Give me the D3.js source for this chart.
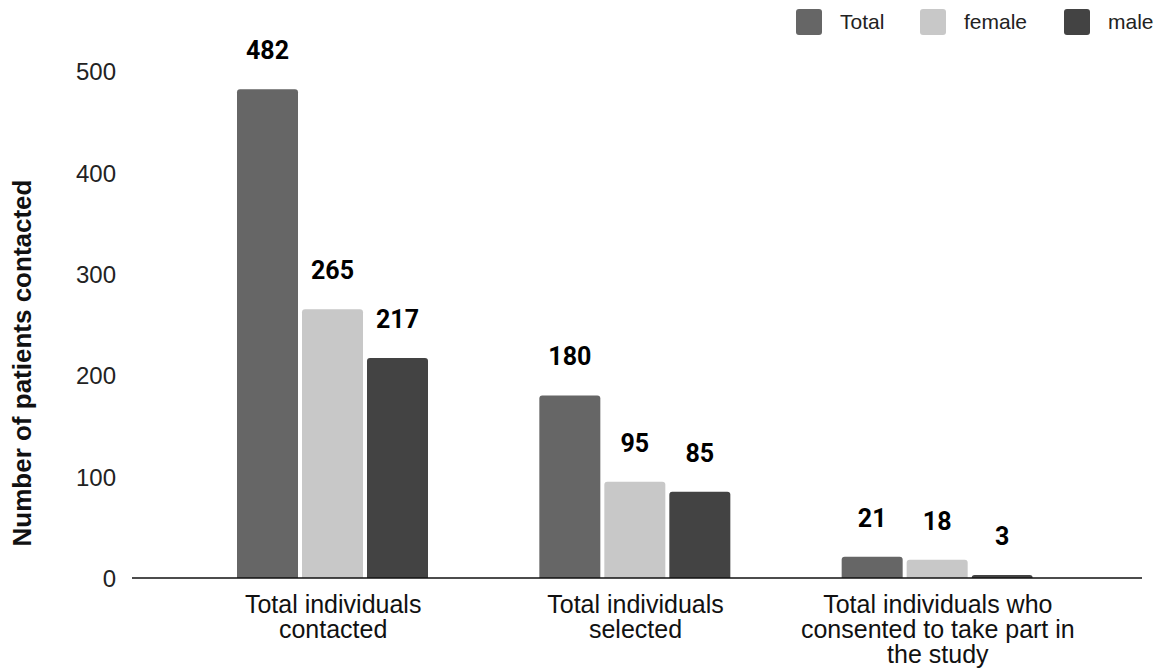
<!DOCTYPE html>
<html>
<head>
<meta charset="utf-8">
<script src="https://cdn.jsdelivr.net/npm/d3@7"></script>
<style>
  html, body { margin: 0; padding: 0; background: #fff; }
  svg { display: block; }
</style>
</head>
<body>
<svg id="chart" width="1164" height="671"></svg>
<script>
// Recruitment counts per stage, split by sex
const categories = [
  ["Total individuals", "contacted"],
  ["Total individuals", "selected"],
  ["Total individuals who", "consented to take part in", "the study"]
];
const seriesNames = ["Total", "female", "male"];
const totalValues = [482, 180, 21];
const femaleValues = [265, 95, 18];
const maleValues = [217, 85, 3];
const yTicks = [0, 100, 200, 300, 400, 500];
const colors = ["#666666", "#c8c8c8", "#434343"];

const svg = d3.select("#chart");
const seriesValues = [totalValues, femaleValues, maleValues];
const FONT = "Liberation Sans, Arial, sans-serif";

const y = d3.scaleLinear().domain([0, 500]).range([578, 71]);
const x0 = d3.scaleBand().domain(d3.range(categories.length)).range([182, 1089]);
const x1 = d3.scaleBand().domain(seriesNames).range([55, 246]).paddingInner(0.0615);

// y tick labels
const yAxis = d3.axisLeft(y).tickValues(yTicks).tickSize(0).tickPadding(0);
const yg = svg.append("g").attr("transform", "translate(116,0)").call(yAxis);
yg.select(".domain").remove();
yg.selectAll("text")
  .attr("font-family", FONT)
  .attr("font-size", 24)
  .attr("dy", "0.36em")
  .attr("fill", "#222");

// y axis title
svg.append("text")
  .attr("transform", "translate(31,363) rotate(-90)")
  .attr("text-anchor", "middle")
  .attr("font-family", FONT)
  .attr("font-weight", "bold")
  .attr("font-size", 26)
  .attr("fill", "#111")
  .text("Number of patients contacted");

// Bars with rounded top corners
function barPath(x, yTop, w, yBase, r) {
  const h = yBase - yTop;
  const rr = Math.min(r, h, w / 2);
  return `M${x},${yBase} V${yTop + rr} Q${x},${yTop} ${x + rr},${yTop} H${x + w - rr} Q${x + w},${yTop} ${x + w},${yTop + rr} V${yBase} Z`;
}

const groups = svg.append("g").selectAll("g")
  .data(categories.map((c, i) => ({ i, vals: seriesNames.map((s, k) => ({ s, k, v: seriesValues[k][i] })) })))
  .join("g")
  .attr("transform", d => `translate(${x0(d.i)},0)`);

groups.selectAll("path")
  .data(d => d.vals)
  .join("path")
  .attr("d", d => barPath(x1(d.s), y(d.v), x1.bandwidth(), y(0), 3))
  .attr("fill", d => colors[d.k]);

groups.selectAll("text.val")
  .data(d => d.vals)
  .join("text")
  .attr("class", "val")
  .attr("x", d => x1(d.s) + x1.bandwidth() / 2)
  .attr("y", d => y(d.v) - 30)
  .attr("text-anchor", "middle")
  .attr("font-family", "Roboto, Arial, sans-serif")
  .attr("font-weight", "bold")
  .attr("font-size", 25)
  .attr("fill", "#000")
  .text(d => d.v);

// baseline
svg.append("line")
  .attr("x1", 132).attr("x2", 1142)
  .attr("y1", y(0)).attr("y2", y(0))
  .attr("stroke", "#111").attr("stroke-width", 1.6);

// category labels
const catLabels = svg.append("g").selectAll("text")
  .data(categories)
  .join("text")
  .attr("x", (d, i) => x0(i) + x0.bandwidth() / 2)
  .attr("y", 613)
  .attr("text-anchor", "middle")
  .attr("font-family", FONT)
  .attr("font-size", 25)
  .attr("fill", "#111");
catLabels.selectAll("tspan")
  .data(d => d)
  .join("tspan")
  .attr("x", function () { return d3.select(this.parentNode).attr("x"); })
  .attr("dy", (d, j) => j === 0 ? 0 : 25)
  .text(d => d);

// legend
const legendX = [796, 920, 1064];
const legend = svg.append("g").selectAll("g")
  .data(seriesNames)
  .join("g")
  .attr("transform", (d, i) => `translate(${legendX[i]},9)`);
legend.append("rect")
  .attr("width", 26).attr("height", 26).attr("rx", 3)
  .attr("fill", (d, i) => colors[i]);
legend.append("text")
  .attr("x", 44)
  .attr("y", 20)
  .attr("font-family", FONT)
  .attr("font-size", 21)
  .attr("fill", "#222")
  .text(d => d);
</script>
</body>
</html>
